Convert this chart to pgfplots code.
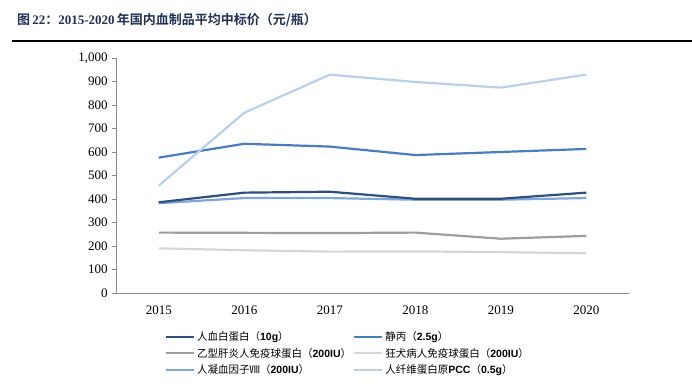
\documentclass[border=0pt]{standalone}
\usepackage{pgfplots}
\pgfplotsset{compat=1.18}
\usepackage{fontspec}
\setmainfont{Liberation Serif}
\newfontfamily\cjk{Noto Sans CJK SC}
\newfontfamily\cjkb{Noto Sans CJK SC Bold}
\newcommand{\tb}[1]{{\rmfamily\bfseries #1}}
\newcommand{\lb}[1]{{\fontspec{Liberation Sans}\bfseries #1}}
\definecolor{titlec}{HTML}{1F3256}
\definecolor{s1}{HTML}{2E4F7E}
\definecolor{s2}{HTML}{4A7DC0}
\definecolor{s3}{HTML}{9E9E9E}
\definecolor{s4}{HTML}{D6D6D6}
\definecolor{s5}{HTML}{7FA6D8}
\definecolor{s6}{HTML}{B9D0EC}
\definecolor{axc}{HTML}{8C8C8C}
\begin{document}
\begin{tikzpicture}
\path[use as bounding box] (0pt,0pt) rectangle (692pt,383pt);
\node[anchor=west,inner sep=0pt,text=titlec] at (17pt,363pt) {\fontsize{13}{15}\selectfont\cjkb 图\,\tb{22}：\tb{2015-2020}\,年国内血制品平均中标价（元/瓶）};
\draw[line width=2pt] (12pt,341.5pt) -- (692pt,341.5pt);
\begin{axis}[
  at={(116pt,90pt)}, anchor=south west, scale only axis,
  width=513pt, height=235pt,
  xmin=2014.5, xmax=2020.5, ymin=0, ymax=1000,
  axis lines=left, axis line style={axc, line width=0.8pt, -},
  xtick={2015,2016,2017,2018,2019,2020},
  xticklabel style={/pgf/number format/1000 sep={}},
  x tick label style={font=\fontsize{13}{14}\selectfont, yshift=-5pt},
  ytick={0,100,...,1000},
  y tick label style={font=\fontsize{13}{14}\selectfont, xshift=-1pt},
  /pgf/number format/assume math mode=true,
  major x tick style={draw=none},
  major y tick style={axc, line width=0.8pt},
  tick align=outside, major tick length=4pt,
  every axis plot/.append style={line width=2.2pt, line join=round},
]
\addplot[s4] coordinates {(2015,190) (2016,182) (2017,176) (2018,177) (2019,174) (2020,169)};
\addplot[s3] coordinates {(2015,257) (2016,256) (2017,255) (2018,257) (2019,231) (2020,243)};
\addplot[s5] coordinates {(2015,382) (2016,404) (2017,404) (2018,397) (2019,397) (2020,404)};
\addplot[s1] coordinates {(2015,386) (2016,427) (2017,431) (2018,401) (2019,401) (2020,427)};
\addplot[s2] coordinates {(2015,576) (2016,635) (2017,623) (2018,587) (2019,600) (2020,613)};
\addplot[s6] coordinates {(2015,457) (2016,767) (2017,929) (2018,898) (2019,874) (2020,929)};
\end{axis}
\begin{axis}[
  at={(116pt,90pt)}, anchor=south west, scale only axis,
  width=513pt, height=235pt, hide axis,
  xmin=0, xmax=1, ymin=0, ymax=1,
  legend style={at={(0.095,-0.155)}, anchor=north west, draw=none, fill=none,
    font=\fontsize{10.5}{12}\selectfont\cjk, legend columns=2,
    row sep=2pt, inner sep=0pt,
    /tikz/every even column/.append style={column sep=0pt},
    /tikz/every odd column/.append style={column sep=0pt}},
  legend cell align=left,
  legend image code/.code={\draw[#1, line width=2.2pt] (0pt,0pt) -- (28pt,0pt);},
]
\addlegendimage{s1}\addlegendentry{人血白蛋白（\lb{10g}）}
\addlegendimage{s2}\addlegendentry{静丙（\lb{2.5g}）}
\addlegendimage{s3}\addlegendentry{乙型肝炎人免疫球蛋白（\lb{200IU}）\hspace{14pt}}
\addlegendimage{s4}\addlegendentry{狂犬病人免疫球蛋白（\lb{200IU}）}
\addlegendimage{s5}\addlegendentry{人凝血因子Ⅷ（\lb{200IU}）}
\addlegendimage{s6}\addlegendentry{人纤维蛋白原\lb{PCC}（\lb{0.5g}）}
\end{axis}
\end{tikzpicture}
\end{document}
